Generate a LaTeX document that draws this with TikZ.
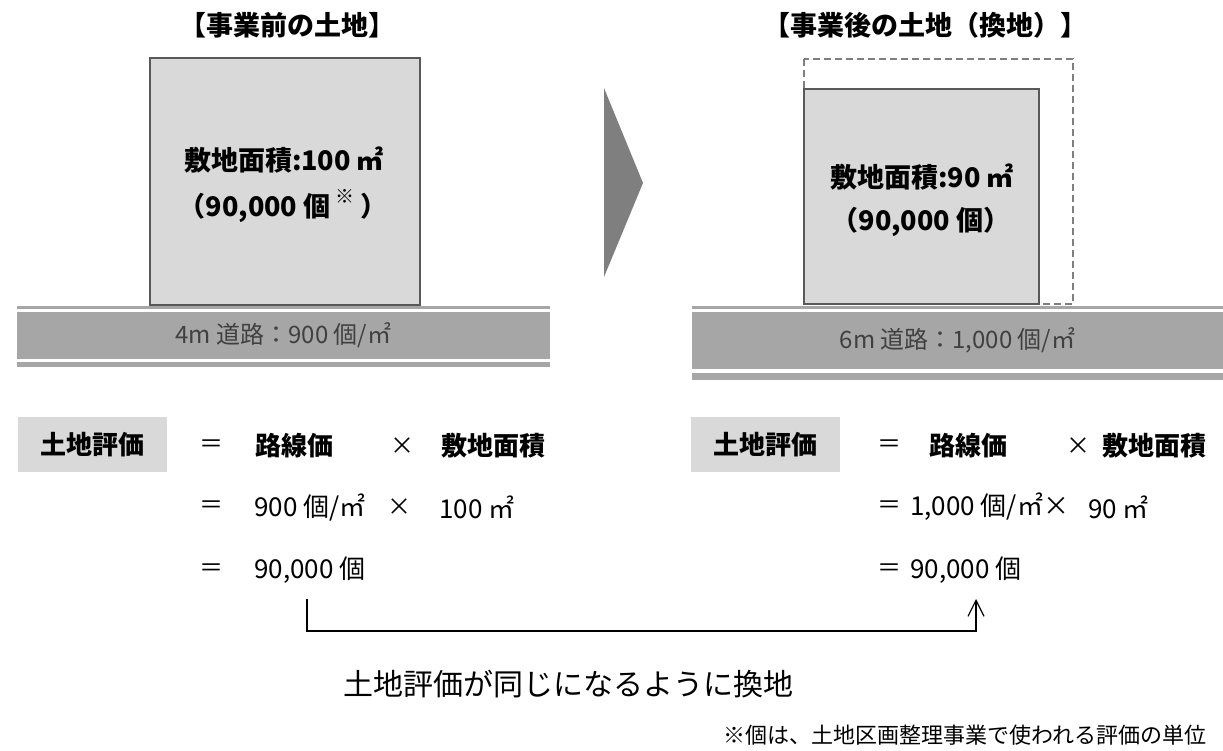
\documentclass[tikz,border=0pt]{standalone}
\usepackage{fontspec}
\setmainfont{Noto Sans CJK JP}
\usetikzlibrary{arrows.meta}

\definecolor{lotfill}{HTML}{D9D9D9}
\definecolor{lotline}{HTML}{595959}
\definecolor{roadgray}{HTML}{A6A6A6}
\definecolor{chevgray}{HTML}{7F7F7F}
\definecolor{roadtxt}{HTML}{404040}

\newcommand{\fsz}[1]{\fontsize{#1}{#1}\selectfont}

\begin{document}
\begin{tikzpicture}[x=1pt,y=-1pt,inner sep=0pt,
  title/.style={font=\bfseries\fsz{27}},
  lot/.style={draw=lotline,fill=lotfill,line width=2pt},
  lottext/.style={font=\bfseries\fsz{27}},
  road/.style={fill=roadgray},
  roadtext/.style={text=roadtxt,font=\fsz{24}},
  tag/.style={fill=lotfill,minimum width=149pt,minimum height=55pt,font=\bfseries\fsz{26}},
  eqbold/.style={anchor=west,font=\bfseries\fsz{26}},
  eqtxt/.style={anchor=west,font=\fsz{26}},
  op/.style={font=\fsz{24}},
  link/.style={line width=1.2pt,-{Straight Barb[length=16pt,width=16pt,line width=1.2pt]}}]

\useasboundingbox (0,0) rectangle (1223,750);

% titles
\node[title] (tb) at (287,25) {【事業前の土地】};
\node[title] (ta) at (925,25) {【事業後の土地（換地）】};

% before: lot and 4m road
\fill[road] (17,306) rectangle (550,308.7);
\fill[road] (17,312) rectangle (550,359);
\fill[road] (17,362) rectangle (550,367);
\node[roadtext] (r1) at (283.5,335.5) {4m 道路：900 個/㎡};
\node[lot,minimum width=270pt,minimum height=247pt] (before) at (285,181.5) {};
\node[lottext] (b1) at (284,160) {敷地面積:100 ㎡};
\node[lottext] (b2) at (283,206) {（90,000 個\,\raisebox{0.45em}{\fsz{19}※}\ ）};

% chevron
\fill[chevgray] (604,88) -- (643,183) -- (604,277) -- cycle;

% after: old outline, lot and 6m road
\fill[road] (692,305.5) rectangle (1223,308.7);
\fill[road] (692,312) rectangle (1223,369);
\fill[road] (692,373) rectangle (1223,380);
\node[roadtext] (r2) at (957.5,340.5) {6m 道路：1,000 個/㎡};
\draw[chevgray,line width=1.3pt,dash pattern=on 7pt off 4pt] (804,59) rectangle (1073,304);
\node[lot,minimum width=235pt,minimum height=215pt] (after) at (921.5,196.5) {};
\node[lottext] (a1) at (922,177) {敷地面積:90 ㎡};
\node[lottext] (a2) at (921,222) {（90,000 個）};

% evaluation, before
\node[tag] (tag1) at (92.5,444.5) {土地評価};
\node[op] (e11) at (211,446) {＝};
\node[eqbold] (p1) at (255,446) {路線価};
\node[op] (x11) at (402,446) {×};
\node[eqbold] (s1) at (441,446) {敷地面積};
\node[op] (e12) at (211,507) {＝};
\node[eqtxt] (v1) at (254,507) {900 個/㎡};
\node[op] (x12) at (399,507) {×};
\node[eqtxt] (m1) at (439,507) {100 ㎡};
\node[op] (e13) at (211,570) {＝};
\node[eqtxt] (res1) at (254,570) {90,000 個};

% evaluation, after
\node[tag] (tag2) at (765.5,444.5) {土地評価};
\node[op] (e21) at (889,446) {＝};
\node[eqbold] (p2) at (929,446) {路線価};
\node[op] (x21) at (1078,446) {×};
\node[eqbold] (s2) at (1102,446) {敷地面積};
\node[op] (e22) at (889,507) {＝};
\node[eqtxt] (v2) at (910,507) {1,000 個/㎡×};
\node[eqtxt] (m2) at (1088,507) {90 ㎡};
\node[op] (e23) at (889,570) {＝};
\node[eqtxt] (res2) at (910,570) {90,000 個};

% same value
\coordinate (from) at (307,599);
\coordinate (to) at (976,599);
\draw[link] (from) -- ++(0,32) -| (to);

\node[font=\fsz{30}] (note) at (568,684) {土地評価が同じになるように換地};
\node[font=\fsz{22}] (unit) at (965,735) {※個は、土地区画整理事業で使われる評価の単位};

\end{tikzpicture}
\end{document}
